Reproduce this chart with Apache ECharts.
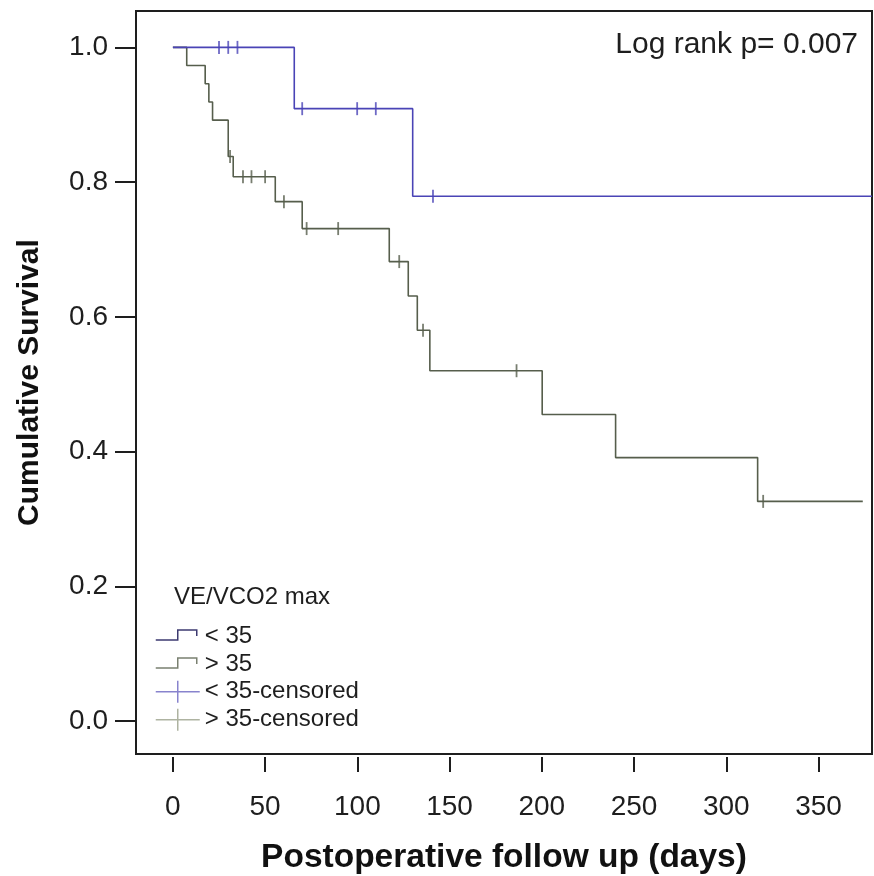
<!DOCTYPE html>
<html><head><meta charset="utf-8">
<script src="https://cdn.jsdelivr.net/npm/echarts@6/dist/echarts.min.js"></script>
<style>html,body{margin:0;padding:0;background:#fff}#c{width:874px;height:876px}</style>
</head><body><div id="c"></div>
<script>
// ---- data ----
const xTicks = [0, 50, 100, 150, 200, 250, 300, 350];
const yTicks = [0, 0.2, 0.4, 0.6, 0.8, 1.0];
const groupNames = ['< 35', '> 35', '< 35-censored', '> 35-censored'];
// group < 35 : step curve (event times, survival after event)
const lowTimes = [0, 65.8, 130, 379];
const lowSurv  = [1, 0.909, 0.779, 0.779];
const lowCensTimes = [25, 30, 35, 70.1, 99.9, 110, 141];
const lowCensSurv  = [1, 1, 1, 0.909, 0.909, 0.909, 0.779];
// group > 35
const highTimes = [0, 7.5, 17.5, 19.5, 21.5, 30, 32.7, 55.5, 70.1, 117.3, 127.6, 132.5, 139.3, 200.2, 240, 317, 374];
const highSurv  = [1, 0.973, 0.946, 0.919, 0.892, 0.838, 0.808, 0.771, 0.731, 0.682, 0.631, 0.580, 0.520, 0.455, 0.391, 0.326, 0.326];
const highCensTimes = [31, 38, 42.6, 50, 60.2, 72.5, 89.6, 122.7, 135.6, 186.3, 320];
const highCensSurv  = [0.838, 0.808, 0.808, 0.808, 0.771, 0.731, 0.731, 0.682, 0.580, 0.520, 0.326];
const legendTitle = 'VE/VCO2 max';
const annotation = 'Log rank p= 0.007';
const xName = 'Postoperative follow up (days)';
const yName = 'Cumulative Survival';

// ---- styling ----
const FONT = '"Liberation Sans", Arial, Helvetica, sans-serif';
const BLUE = '#4a44b6';
const GREEN = '#565e4c';
const INK = '#1e1e1e';
const zip = (a, b) => a.map((v, i) => [v, b[i]]);

const chart = echarts.init(document.getElementById('c'), null, {renderer: 'canvas'});
const stepIcon = 'path://M0,0M44,22M0,15L22,15L22,5L41,5L41,11';
const censIcon = 'path://M0,0M44,22M0,11L44,11M22,0L22,22';

chart.setOption({
  animation: false,
  backgroundColor: '#fff',
  grid: {left: 136, top: 11, right: 2, bottom: 122, show: true,
         borderColor: INK, borderWidth: 2, backgroundColor: 'transparent',
         containLabel: false, outerBoundsMode: 'none'},
  xAxis: {
    type: 'value', min: -20, max: 379, offset: 3,
    axisLine: {show: false, onZero: false},
    axisTick: {show: true, length: 15, customValues: xTicks, lineStyle: {color: INK, width: 2}},
    axisLabel: {customValues: xTicks, fontSize: 28, color: INK, fontFamily: FONT, margin: 36},
    splitLine: {show: false},
    name: xName, nameLocation: 'middle', nameGap: 84,
    nameTextStyle: {fontSize: 33.5, fontWeight: 'bold', color: '#111', fontFamily: FONT}
  },
  yAxis: {
    type: 'value', min: -0.049, max: 1.054, offset: 1,
    axisLine: {show: false, onZero: false},
    axisTick: {show: true, length: 20, customValues: yTicks, lineStyle: {color: INK, width: 2}},
    axisLabel: {customValues: yTicks, fontSize: 28, color: INK, fontFamily: FONT, margin: 27,
                formatter: v => v.toFixed(1)},
    splitLine: {show: false},
    name: yName, nameLocation: 'middle', nameRotate: 90, nameGap: 90,
    nameTextStyle: {fontSize: 30, fontWeight: 'bold', color: '#111', fontFamily: FONT}
  },
  legend: {
    orient: 'vertical', left: 150, top: 619, itemWidth: 44, itemHeight: 22, itemGap: 3.9,
    selectedMode: false,
    textStyle: {fontSize: 24, lineHeight: 22, color: INK, fontFamily: FONT},
    data: [
      {name: groupNames[0], icon: stepIcon, itemStyle: {color: 'rgba(0,0,0,0)', borderColor: '#3d3a70', borderWidth: 1.5}},
      {name: groupNames[1], icon: stepIcon, itemStyle: {color: 'rgba(0,0,0,0)', borderColor: '#7a8070', borderWidth: 1.5}},
      {name: groupNames[2], icon: censIcon, itemStyle: {color: 'rgba(0,0,0,0)', borderColor: '#6a64c0', borderWidth: 1.5}},
      {name: groupNames[3], icon: censIcon, itemStyle: {color: 'rgba(0,0,0,0)', borderColor: '#9aa08a', borderWidth: 1.5}}
    ]
  },
  graphic: [
    {type: 'text', left: 174, top: 585, style: {text: legendTitle, font: '24px ' + FONT, fill: INK}},
    {type: 'text', right: 16, top: 30, style: {text: annotation, font: '30px ' + FONT, fill: INK}}
  ],
  series: [
    {type: 'line', name: groupNames[0], step: 'end', data: zip(lowTimes, lowSurv),
     showSymbol: false, symbol: 'none', lineStyle: {color: BLUE, width: 1.6}, itemStyle: {color: BLUE}, z: 3},
    {type: 'line', name: groupNames[1], step: 'end', data: zip(highTimes, highSurv),
     showSymbol: false, symbol: 'none', lineStyle: {color: GREEN, width: 1.6}, itemStyle: {color: GREEN}, z: 2},
    {type: 'scatter', name: groupNames[2], data: zip(lowCensTimes, lowCensSurv),
     symbol: 'rect', symbolSize: [1.8, 13], itemStyle: {color: BLUE}, z: 4},
    {type: 'scatter', name: groupNames[3], data: zip(highCensTimes, highCensSurv),
     symbol: 'rect', symbolSize: [1.8, 13], itemStyle: {color: GREEN}, z: 4}
  ]
});
</script></body></html>
